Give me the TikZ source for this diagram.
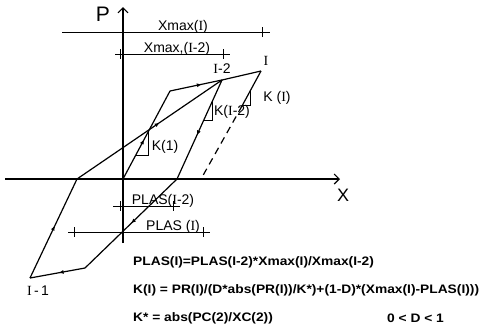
\documentclass[tikz,border=0pt]{standalone}
\usepackage{fontspec}
\setmainfont{Liberation Sans}
\newfontfamily\serI{Liberation Serif}
\newfontfamily\eqfont[FakeStretch=1.12]{Liberation Sans}
\usetikzlibrary{arrows.meta,decorations.markings}

\newcommand{\RI}{{\serI I}}

\tikzset{
  curve/.style={line width=1.2pt},
  dimline/.style={line width=.9pt},
  axisarrow/.style={line width=1.1pt,-{Straight Barb[length=5pt,width=10pt]}},
  midarrow/.style={postaction={decorate},decoration={markings,mark=at position #1 with {\arrow{Latex[length=5pt,width=4pt]}}}},
  lbl/.style={font=\fontsize{14}{14}\selectfont,inner sep=0pt},
  dimlbl/.style={lbl,anchor=base},
  eqn/.style={font=\eqfont\bfseries\fontsize{12.3}{13}\selectfont,anchor=west,inner sep=0pt},
}

\begin{document}
\begin{tikzpicture}[x=1pt,y=-1pt]
        \useasboundingbox (0,0) rectangle (482,333);
        \begin{scope}%<- axes
        \coordinate (O) at (123,179);
        \coordinate (x-left) at (5,179);
        \coordinate (x-axis) at (340,179);
        \coordinate (p-low) at (123,243);
        \coordinate (p-axis) at (123,7);
        \draw[axisarrow] (x-left) -- (x-axis);
        \draw[axisarrow] (p-low) -- (p-axis);
        \node[font=\fontsize{21}{21}\selectfont,inner sep=0pt] (P) at (103,14) {P};
        \node[font=\fontsize{18}{18}\selectfont,inner sep=0pt] (X) at (343,195) {X};
        \end{scope}
        \begin{scope}[curve]%<- loops
        \coordinate (B) at (170,91);
        \coordinate (I2) at (222,80);
        \coordinate (I) at (261,71);
        \coordinate (C) at (77,179);
        \coordinate (D) at (177,179);
        \coordinate (E) at (85,268);
        \coordinate (I1) at (30,278);
        \coordinate (F) at (242,106);
        \coordinate (G) at (201,179);
        \draw[midarrow=.45] (O) -- (B);
        \draw[midarrow=.35] (B) -- (I2) -- (I);
        \draw[midarrow=.56] (I2) -- (D);
        \draw[midarrow=.5] (D) -- (E);
        \draw[midarrow=.48] (E) -- (I1);
        \draw[midarrow=.53] (I1) -- (C);
        \draw[midarrow=.57] (C) -- (I2);
        \draw (I) -- (F);
        \draw[dash pattern=on 7pt off 5pt] (F) -- (G);
        \end{scope}
        % stiffness triangles
        \draw[dimline] (148,132) |- (136,155);
        \draw[dimline] (212,102) |- (204,120);
        \draw[dimline] (250,90) |- (242,105);
        \node[lbl] (k1) at (165,147) {K(1)};
        \node[lbl] (ki2) at (232,112) {K(\RI-2)};
        \node[lbl] (ki) at (277,98) {K (\RI)};
        \node[lbl] (lI) at (266,61) {\RI};
        \node[lbl] (lI2) at (222,69) {\RI-2};
        \node[lbl] (lI1) at (38,291) {\RI\,-\,1};
        % dimension lines
        \draw[dimline] (62,32) -- (270,32) (262,27) -- (262,37);
        \draw[dimline] (115,54) -- (230,54) (120,49) -- (120,59) (223,49) -- (223,59);
        \draw[dimline] (113,206) -- (180,206) (120,201) -- (120,211) (173,201) -- (173,211);
        \draw[dimline] (68,232) -- (210,232) (74,227) -- (74,237) (203,227) -- (203,237);
        \node[dimlbl] (xmi) at (183,30) {Xmax(\RI)};
        \node[dimlbl] (xmi2) at (177,52) {Xmax,(\RI-2)};
        \node[dimlbl] (pl2) at (163,204) {PLAS(\RI-2)};
        \node[dimlbl] (pl) at (173,230) {PLAS (\RI)};
        % formulas
        \node[eqn] (eq1) at (133,262) {PLAS(I)=PLAS(I-2)*Xmax(I)/Xmax(I-2)};
        \node[eqn] (eq2) at (133,290) {K(I) = PR(I)/(D*abs(PR(I))/K*)+(1-D)*(Xmax(I)-PLAS(I)))};
        \node[eqn] (eq3) at (133,318) {K* = abs(PC(2)/XC(2))};
        \node[eqn] (eq4) at (387,318) {0 < D < 1};
\end{tikzpicture}
\end{document}
